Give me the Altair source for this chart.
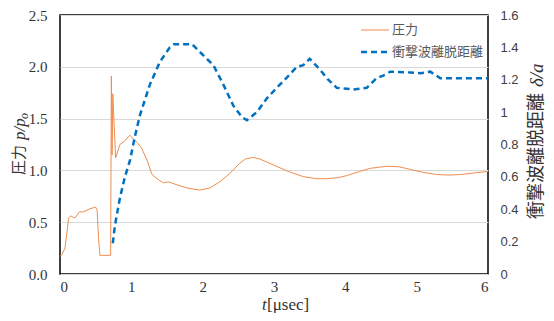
import altair as alt
import pandas as pd

# ---- data ----
t_pressure = [0.0, 0.03, 0.07, 0.10, 0.12, 0.15, 0.21, 0.24, 0.27, 0.33, 0.42, 0.50,
              0.52, 0.54, 0.56, 0.60, 0.71, 0.72, 0.73, 0.74, 0.78, 0.84, 0.90, 0.98,
              1.03, 1.08, 1.14, 1.22, 1.29, 1.36, 1.45, 1.52, 1.64, 1.78, 1.96, 2.10,
              2.24, 2.38, 2.52, 2.60, 2.71, 2.80, 2.90, 3.00, 3.20, 3.41, 3.60, 3.74,
              3.90, 4.02, 4.20, 4.35, 4.58, 4.75, 4.91, 5.10, 5.28, 5.45, 5.61, 5.80, 6.00]
pressure = [0.17, 0.19, 0.25, 0.42, 0.54, 0.56, 0.54, 0.57, 0.60, 0.60, 0.63, 0.645,
            0.62, 0.35, 0.18, 0.18, 0.18, 1.91, 1.15, 1.74, 1.12, 1.25, 1.28, 1.34,
            1.30, 1.27, 1.22, 1.10, 0.96, 0.92, 0.88, 0.89, 0.86, 0.83, 0.81, 0.83,
            0.89, 0.97, 1.07, 1.11, 1.125, 1.11, 1.08, 1.05, 0.99, 0.94, 0.92, 0.92,
            0.93, 0.95, 0.99, 1.02, 1.04, 1.035, 1.01, 0.98, 0.96, 0.955, 0.96, 0.975, 0.99]

t_standoff = [0.74, 0.77, 0.84, 0.91, 0.98, 1.05, 1.12, 1.26, 1.40, 1.54, 1.60, 1.68,
              1.85, 2.01, 2.15, 2.29, 2.43, 2.55, 2.62, 2.76, 2.90, 3.06, 3.13, 3.32,
              3.41, 3.50, 3.65, 3.76, 3.88, 4.11, 4.30, 4.44, 4.53, 4.63, 4.91, 5.05,
              5.19, 5.33, 6.00]
standoff = [0.19, 0.30, 0.47, 0.60, 0.70, 0.85, 0.98, 1.17, 1.31, 1.40, 1.42, 1.42,
            1.42, 1.35, 1.29, 1.17, 1.04, 0.97, 0.95, 1.00, 1.085, 1.16, 1.19, 1.28,
            1.29, 1.33, 1.26, 1.20, 1.15, 1.14, 1.15, 1.21, 1.225, 1.25, 1.245, 1.24,
            1.25, 1.21, 1.21]

x_ticks = [0, 1, 2, 3, 4, 5, 6]
left_ticks = [0.0, 0.5, 1.0, 1.5, 2.0, 2.5]
right_ticks = [0, 0.2, 0.4, 0.6, 0.8, 1.0, 1.2, 1.4, 1.6]
series_names = ["圧力", "衝撃波離脱距離"]

ORANGE = "#F08C4E"
BLUE = "#0070C0"
SERIF = "Liberation Serif"
SANS = "Liberation Sans"
CJK = "Noto Sans CJK JP"

df_p = pd.DataFrame({"t": t_pressure, "p": pressure})
df_d = pd.DataFrame({"t": t_standoff, "d": standoff})

xscale = alt.Scale(domain=[0, 6], nice=False, zero=False)


def x_axis():
    return alt.Axis(values=x_ticks, format="d", title=None, grid=False, ticks=False,
                    domain=False, labelFont=SERIF, labelFontSize=15,
                    labelColor="#333333", labelPadding=5)


pressure_line = alt.Chart(df_p).mark_line(color=ORANGE, strokeWidth=1).encode(
    x=alt.X("t:Q", scale=xscale, axis=x_axis()),
    y=alt.Y("p:Q", scale=alt.Scale(domain=[0, 2.5], nice=False),
            axis=alt.Axis(values=left_ticks, format=".1f", title=None, grid=True,
                          gridColor="#D9D9D9", gridWidth=1, ticks=False, domain=False,
                          labelFont=SERIF, labelFontSize=15, labelColor="#333333",
                          labelPadding=13)),
)

standoff_line = alt.Chart(df_d).mark_line(color=BLUE, strokeWidth=2.5,
                                           strokeDash=[6, 4]).encode(
    x=alt.X("t:Q", scale=xscale, axis=x_axis()),
    y=alt.Y("d:Q", scale=alt.Scale(domain=[0, 1.6], nice=False),
            axis=alt.Axis(orient="right", values=right_ticks, format="~g", title=None,
                          grid=False, ticks=False, domain=False, labelFont=SANS,
                          labelFontSize=13, labelColor="#404040", labelPadding=12)),
)


def txt(s, x, y, font, size, style="normal", angle=0, color="#333333",
        align="left", baseline="alphabetic"):
    return alt.Chart(pd.DataFrame({"s": [s]})).mark_text(
        font=font, fontSize=size, fontStyle=style, angle=angle, color=color,
        align=align, baseline=baseline,
    ).encode(text="s:N", x=alt.value(x), y=alt.value(y))


# left axis title: 圧力 p/p_o
lt = [
    txt("圧力", -41, 160, CJK, 15, angle=270, baseline="middle"),
    txt("p/p", -35, 125, SERIF, 17, style="italic", angle=270),
    txt("o", -32, 104, SERIF, 12, style="italic", angle=270),
]
# right axis title: 衝撃波離脱距離 δ/a
rt = [
    txt("衝撃波離脱距離", 477, 204, CJK, 18, angle=270, baseline="middle"),
    txt("δ/a", 483, 72, SERIF, 19, style="italic", angle=270),
]
# x axis title: t[μsec]
xt = [
    txt("t", 202, 295, SERIF, 17, style="italic"),
    txt("[μsec]", 207, 295, SERIF, 17),
]

# legend
legend = [
    alt.Chart(pd.DataFrame({"s": [series_names[0]]})).mark_rule(
        color=ORANGE, strokeWidth=1).encode(
        x=alt.value(301), x2=alt.value(329), y=alt.value(15)),
    alt.Chart(pd.DataFrame({"s": [series_names[1]]})).mark_rule(
        color=BLUE, strokeWidth=2.5, strokeDash=[6, 4]).encode(
        x=alt.value(301), x2=alt.value(329), y=alt.value(37)),
    txt(series_names[0], 332, 15, CJK, 13, color="#595959", baseline="middle"),
    txt(series_names[1], 332, 37, CJK, 13, color="#595959", baseline="middle"),
]

chart = alt.layer(
    pressure_line, standoff_line, *lt, *rt, *xt, *legend
).resolve_scale(y="independent").properties(
    width=428, height=259,
    padding={"left": 52, "top": 7, "right": 58, "bottom": 39},
    autosize=alt.AutoSizeParams(type="none"),
).configure_view(stroke="black", strokeWidth=1.5)

chart.save("out.html", embed_options={"renderer": "svg", "actions": False})
